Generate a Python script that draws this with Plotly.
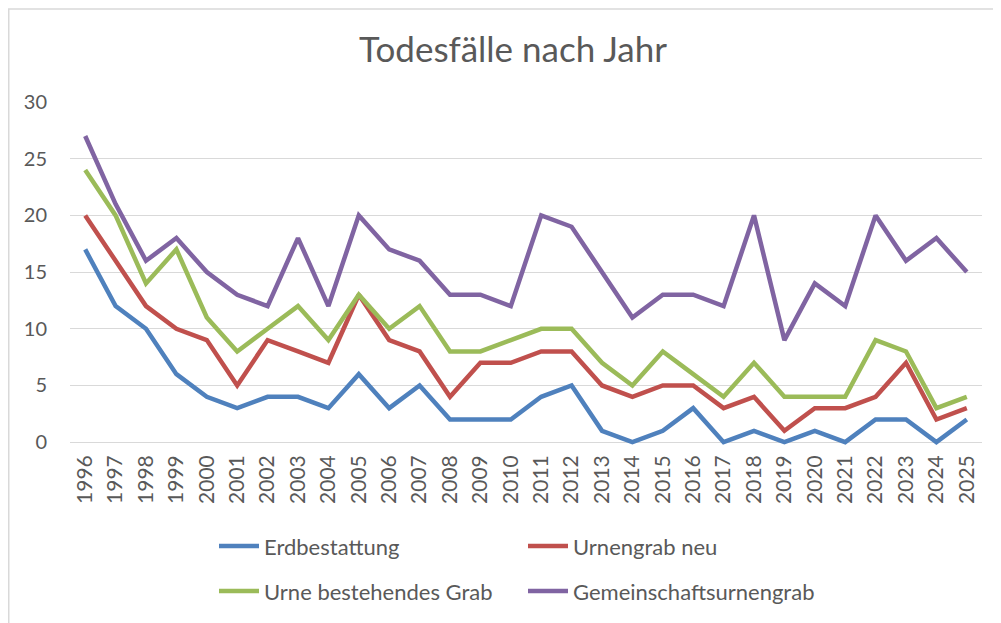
import plotly.graph_objects as go

years = [str(y) for y in range(1996, 2026)]
erdbestattung = [17, 12, 10, 6, 4, 3, 4, 4, 3, 6, 3, 5, 2, 2, 2, 4, 5, 1, 0, 1, 3, 0, 1, 0, 1, 0, 2, 2, 0, 2]
urnengrab_neu = [20, 16, 12, 10, 9, 5, 9, 8, 7, 13, 9, 8, 4, 7, 7, 8, 8, 5, 4, 5, 5, 3, 4, 1, 3, 3, 4, 7, 2, 3]
urne_bestehend = [24, 20, 14, 17, 11, 8, 10, 12, 9, 13, 10, 12, 8, 8, 9, 10, 10, 7, 5, 8, 6, 4, 7, 4, 4, 4, 9, 8, 3, 4]
gemeinschaft = [27, 21, 16, 18, 15, 13, 12, 18, 12, 20, 17, 16, 13, 13, 12, 20, 19, 15, 11, 13, 13, 12, 20, 9, 14, 12, 20, 16, 18, 15]
y_ticks = [0, 5, 10, 15, 20, 25, 30]

FONT = "Lato"
GREY = "#595959"

series = [
    ("Erdbestattung", erdbestattung, "#4F81BD", "legend"),
    ("Urnengrab neu", urnengrab_neu, "#C0504D", "legend"),
    ("Urne bestehendes Grab", urne_bestehend, "#9BBB59", "legend2"),
    ("Gemeinschaftsurnengrab", gemeinschaft, "#8064A2", "legend2"),
]

fig = go.Figure()
for name, vals, col, lg in series:
    fig.add_trace(go.Scatter(
        x=years, y=vals, name=name, mode="lines",
        line=dict(color=col, width=4.5, shape="linear"),
        legend=lg,
    ))

# page body has an 8px margin; work in screen coords and convert
OFF = 8
W, H = 1001 - OFF, 623 - OFF
plot_left, plot_right = 70 - OFF, 982 - OFF
plot_top = 102 - OFF
y0_screen = 443 - OFF
YMIN = -0.25
unit = (y0_screen - plot_top) / 30.0
plot_bottom = y0_screen + (-YMIN) * unit
L, R, T, B = plot_left, W - plot_right, plot_top, H - plot_bottom
pw = plot_right - plot_left
ph = plot_bottom - plot_top

def px_x(p):
    return (p - OFF - L) / pw

def px_y(p):
    return (plot_bottom - (p - OFF)) / ph

leg_common = dict(
    orientation="h", xanchor="left", yanchor="middle",
    font=dict(family=FONT, size=22, color=GREY),
    entrywidth=254, entrywidthmode="pixels",
    itemwidth=40, bgcolor="rgba(0,0,0,0)",
    traceorder="normal",
)

fig.update_layout(
    width=W, height=H,
    margin=dict(l=L, r=R, t=T, b=B),
    paper_bgcolor="white", plot_bgcolor="white",
    title=dict(text="Todesfälle nach Jahr", x=px_x(513), xref="paper",
               y=1 - (50 - OFF) / H, yanchor="middle", xanchor="center",
               font=dict(family=FONT, size=35, color=GREY)),
    xaxis=dict(type="category", range=[-0.5, len(years) - 0.5], tickangle=-90,
               showgrid=False, showline=False, ticks="",
               tickfont=dict(family=FONT, size=21, color=GREY),
               ticklabelstandoff=5),
    yaxis=dict(range=[YMIN, 30], tickvals=y_ticks, showgrid=True,
               gridcolor="#D9D9D9", gridwidth=1, zeroline=True,
               zerolinecolor="#D9D9D9", zerolinewidth=1, showline=False, ticks="",
               tickfont=dict(family=FONT, size=20, color=GREY),
               ticklabelstandoff=22),
    legend=dict(x=px_x(214), y=px_y(546), **leg_common),
    legend2=dict(x=px_x(214), y=px_y(591), **leg_common),
    shapes=[dict(type="rect", xref="paper", yref="paper",
                 x0=px_x(OFF + 0.75), x1=px_x(1020), y0=px_y(640), y1=px_y(OFF + 0.75),
                 line=dict(color="#D9D9D9", width=1.5), layer="below")],
)

fig.write_html("out.html")
